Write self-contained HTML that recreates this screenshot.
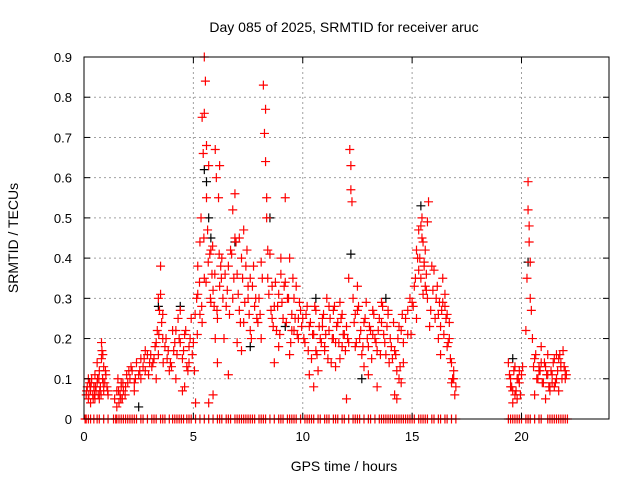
<!DOCTYPE html>
<html><head><meta charset="utf-8"><style>
body{margin:0;background:#fff;}
svg{display:block;font-family:"Liberation Sans",sans-serif;}
</style></head><body>
<svg id="chart" width="640" height="480" viewBox="0 0 640 480">
<text x="344" y="32" font-size="14" text-anchor="middle">Day 085 of 2025, SRMTID for receiver aruc</text>
<text x="344" y="471" font-size="14" text-anchor="middle">GPS time / hours</text>
<text transform="translate(18,238) rotate(-90)" font-size="14" text-anchor="middle">SRMTID / TECUs</text>
<g id="grid"></g><g id="marks"></g><g id="axes"></g>
</svg>
<script>
const xTicks=[0,5,10,15,20];
const yTicks=[0,0.1,0.2,0.3,0.4,0.5,0.6,0.7,0.8,0.9];
const yTickLabels=["0","0.1","0.2","0.3","0.4","0.5","0.6","0.7","0.8","0.9"];
const redT=[0.1,0.15,0.2,0.25,0.3,0.35,0.4,0.45,0.5,0.55,0.6,0.65,0.7,0.75,0.8,0.82,0.85,0.9,0.95,1.0,1.05,1.1,0.3,0.5,0.7,0.9,0.2,0.6,0.8,0.78,
1.4,1.5,1.55,1.6,1.65,1.7,1.75,1.8,1.9,1.95,2.0,2.05,1.5,1.7,
2.1,2.2,2.3,2.4,2.5,2.6,2.7,2.8,2.9,3.0,2.3,2.6,2.8,3.1,3.2,3.3,3.35,3.4,3.45,3.5,3.55,3.6,3.7,3.8,3.9,3.5,3.4,3.6,3.3,
4.0,4.1,4.2,4.3,4.4,4.5,4.6,4.7,4.8,4.9,4.2,4.5,4.8,4.4,4.6,
5.0,5.05,5.1,5.15,5.2,5.3,5.35,5.4,5.45,5.5,5.5,5.55,5.6,5.6,5.65,5.7,5.75,5.8,5.85,5.9,5.95,6.0,6.05,6.1,6.15,6.2,6.2,6.25,6.3,5.3,5.5,5.8,5.9,6.0,5.4,5.7,5.2,6.1,
6.4,6.5,6.6,6.7,6.8,6.9,6.9,7.0,7.1,7.2,7.3,7.4,7.5,7.6,7.7,7.8,7.9,6.6,7.0,7.3,7.6,6.8,7.2,7.5,7.1,
8.0,8.1,8.2,8.25,8.3,8.3,8.35,8.35,8.4,8.4,8.5,8.6,8.7,8.8,8.9,9.0,9.1,9.2,9.3,9.4,9.5,9.6,9.7,9.8,9.9,8.6,8.9,9.2,9.5,9.8,8.1,8.7,9.0,9.4,9.6,
10.0,10.1,10.2,10.3,10.4,10.5,10.6,10.7,10.8,10.9,11.0,11.1,11.2,11.3,11.4,11.5,11.6,11.7,11.8,11.9,10.3,10.6,10.9,11.2,11.5,11.8,10.5,11.0,11.4,11.7,
12.0,12.1,12.15,12.2,12.2,12.25,12.3,12.4,12.5,12.6,12.7,12.8,12.9,13.0,13.1,13.2,13.3,13.4,13.5,13.6,13.7,13.8,13.9,12.0,12.4,12.8,13.2,13.6,12.5,13.0,13.4,12.1,13.9,
14.0,14.1,14.2,14.3,14.4,14.5,14.6,14.7,14.8,14.9,14.2,14.4,14.6,14.8,14.3,14.5,
15.0,15.1,15.2,15.3,15.35,15.4,15.45,15.5,15.55,15.6,15.65,15.7,15.75,15.8,15.9,15.2,15.4,15.6,15.5,15.3,15.7,
16.0,16.1,16.2,16.3,16.4,16.5,16.6,16.7,16.8,16.9,17.0,16.3,16.5,16.7,16.9,16.2,16.6,16.4,16.8,
19.4,19.5,19.6,19.7,19.8,19.9,20.0,19.5,19.7,19.9,19.6,19.8,
20.2,20.25,20.3,20.3,20.35,20.35,20.4,20.4,20.45,20.5,20.6,20.7,20.8,20.9,21.0,21.1,21.2,21.3,21.4,21.5,21.6,21.7,21.8,21.9,22.0,20.6,20.9,21.2,21.5,21.8,20.8,21.1,21.4,21.7,22.0,21.3,21.6];
const redV=[0.06,0.08,0.05,0.09,0.07,0.1,0.06,0.08,0.11,0.07,0.09,0.06,0.12,0.08,0.19,0.17,0.1,0.07,0.09,0.11,0.08,0.06,0.04,0.05,0.05,0.13,0.1,0.14,0.15,0.06,
0.05,0.07,0.1,0.04,0.06,0.09,0.05,0.07,0.08,0.11,0.09,0.12,0.03,0.08,
0.1,0.12,0.09,0.14,0.11,0.15,0.13,0.12,0.16,0.14,0.07,0.1,0.17,0.13,0.15,0.19,0.22,0.3,0.27,0.38,0.24,0.2,0.18,0.15,0.12,0.31,0.16,0.26,0.1,
0.13,0.17,0.22,0.25,0.19,0.15,0.21,0.13,0.18,0.25,0.1,0.07,0.14,0.27,0.08,
0.19,0.12,0.04,0.3,0.38,0.44,0.5,0.75,0.66,0.9,0.76,0.84,0.68,0.55,0.47,0.63,0.41,0.42,0.36,0.32,0.28,0.67,0.6,0.25,0.55,0.63,0.33,0.38,0.4,0.26,0.35,0.29,0.06,0.2,0.24,0.04,0.31,0.14,
0.2,0.28,0.38,0.42,0.52,0.56,0.45,0.36,0.27,0.4,0.47,0.38,0.3,0.22,0.33,0.28,0.25,0.11,0.19,0.24,0.35,0.3,0.17,0.33,0.45,
0.3,0.39,0.83,0.71,0.77,0.64,0.55,0.5,0.42,0.35,0.41,0.33,0.28,0.22,0.31,0.36,0.25,0.55,0.3,0.4,0.26,0.22,0.33,0.2,0.27,0.25,0.18,0.34,0.22,0.25,0.2,0.14,0.4,0.16,0.3,
0.25,0.19,0.28,0.23,0.15,0.21,0.27,0.12,0.2,0.25,0.17,0.3,0.22,0.14,0.27,0.19,0.24,0.29,0.18,0.21,0.11,0.17,0.23,0.28,0.13,0.26,0.08,0.18,0.2,0.15,
0.23,0.35,0.67,0.63,0.57,0.54,0.3,0.26,0.33,0.2,0.16,0.24,0.29,0.18,0.22,0.27,0.2,0.17,0.25,0.29,0.21,0.16,0.27,0.05,0.18,0.13,0.21,0.24,0.27,0.11,0.08,0.19,0.26,
0.2,0.15,0.17,0.12,0.23,0.09,0.14,0.25,0.27,0.3,0.06,0.1,0.19,0.21,0.05,0.22,
0.29,0.33,0.42,0.47,0.4,0.35,0.5,0.44,0.39,0.33,0.36,0.3,0.54,0.23,0.38,0.25,0.48,0.42,0.31,0.37,0.49,
0.37,0.3,0.26,0.23,0.35,0.28,0.18,0.2,0.14,0.12,0.08,0.16,0.31,0.24,0.1,0.2,0.26,0.29,0.09,
0.14,0.1,0.07,0.13,0.05,0.09,0.11,0.08,0.06,0.12,0.04,0.1,
0.22,0.35,0.59,0.52,0.48,0.44,0.39,0.3,0.27,0.2,0.15,0.1,0.12,0.14,0.09,0.13,0.16,0.08,0.11,0.15,0.1,0.07,0.13,0.17,0.12,0.06,0.18,0.11,0.08,0.14,0.13,0.05,0.09,0.15,0.1,0.07,0.16];
const redT2=[0.12,0.22,0.33,0.42,0.52,0.62,0.72,0.88,0.98,1.08,0.28,0.48,0.68,0.86,1.58,1.68,1.78,1.88,2.15,2.35,2.55,2.75,2.95,3.05,3.15,3.25,3.42,3.62,3.75,3.85,3.95,4.05,4.15,4.25,4.35,4.55,4.65,4.75,4.85,4.95,
5.08,5.18,5.28,5.38,5.48,5.58,5.68,5.78,5.88,5.98,6.08,6.18,6.28,6.35,6.45,6.55,6.65,6.75,6.85,6.95,7.05,7.15,7.25,7.35,7.45,7.55,7.65,7.75,7.85,7.95,
8.05,8.15,8.45,8.55,8.65,8.75,8.85,8.95,9.05,9.15,9.25,9.35,9.45,9.55,9.65,9.75,9.85,9.95,10.05,10.15,10.25,10.35,10.45,10.55,10.65,10.75,10.85,10.95,11.05,11.15,11.25,11.35,11.45,11.55,11.65,11.75,11.85,11.95,
12.05,12.35,12.45,12.55,12.65,12.75,12.85,12.95,13.05,13.15,13.25,13.35,13.45,13.55,13.65,13.75,13.85,13.95,14.05,14.15,14.25,14.35,14.45,14.55,
14.95,15.05,15.15,15.25,15.45,15.55,15.65,15.85,15.95,16.05,16.15,16.25,16.35,16.45,16.55,16.65,16.75,16.85,16.95,
19.45,19.55,19.65,19.75,19.85,19.95,20.05,20.55,20.65,20.75,20.85,20.95,21.05,21.15,21.25,21.35,21.45,21.55,21.65,21.75,21.85,21.95,22.05];
const redV2=[0.07,0.06,0.09,0.05,0.08,0.1,0.07,0.09,0.12,0.07,0.08,0.06,0.1,0.16,0.07,0.05,0.09,0.06,0.13,0.1,0.12,0.15,0.11,0.16,0.14,0.18,0.21,0.14,0.2,0.17,0.14,0.22,0.19,0.16,0.2,0.17,0.22,0.12,0.2,0.16,
0.26,0.21,0.34,0.28,0.45,0.34,0.39,0.3,0.43,0.36,0.27,0.41,0.35,0.3,0.36,0.32,0.26,0.41,0.35,0.44,0.31,0.24,0.35,0.29,0.42,0.26,0.2,0.38,0.3,0.24,
0.26,0.35,0.31,0.27,0.23,0.34,0.28,0.21,0.29,0.33,0.24,0.3,0.19,0.35,0.25,0.21,0.29,0.23,0.2,0.26,0.17,0.24,0.21,0.28,0.16,0.23,0.19,0.26,0.21,0.15,0.25,0.2,0.28,0.23,0.19,0.25,0.21,0.17,
0.2,0.24,0.19,0.28,0.22,0.18,0.25,0.2,0.23,0.15,0.26,0.19,0.22,0.16,0.28,0.19,0.23,0.14,0.18,0.24,0.16,0.2,0.13,0.26,
0.21,0.28,0.35,0.4,0.45,0.38,0.32,0.27,0.32,0.25,0.33,0.29,0.27,0.21,0.25,0.19,0.15,0.1,0.06,
0.11,0.08,0.12,0.07,0.1,0.06,0.13,0.13,0.16,0.1,0.12,0.09,0.14,0.11,0.08,0.12,0.14,0.09,0.12,0.16,0.1,0.13,0.11];
const zeroT=[0.05,0.1,0.2,0.3,0.45,0.6,0.7,0.9,1.1,1.35,1.45,1.5,1.6,1.7,1.8,1.9,2.0,2.1,2.2,2.3,2.4,2.6,2.7,2.9,3.1,3.2,3.3,3.5,3.6,3.7,3.9,4.05,4.15,4.25,4.35,4.45,4.55,4.7,4.8,4.9,5.1,5.3,5.5,5.7,5.9,6.1,6.2,6.3,6.5,6.6,6.7,6.9,7.0,7.1,7.2,7.3,7.4,7.5,7.6,7.7,7.8,8.0,8.1,8.2,8.3,8.5,8.7,8.9,9.0,9.1,9.3,9.4,9.5,9.6,9.7,9.9,10.1,10.2,10.3,10.4,10.5,10.7,10.8,11.0,11.1,11.2,11.4,11.5,11.6,11.8,11.9,12.1,12.3,12.4,12.5,12.6,12.8,13.0,13.1,13.3,13.5,13.6,13.7,13.8,13.9,14.0,14.1,14.2,14.3,14.4,14.5,14.6,14.7,14.8,14.9,15.0,15.1,15.3,15.4,15.5,15.6,15.7,15.9,16.0,16.2,16.3,16.5,16.6,16.8,17.0,19.4,19.5,19.6,19.7,19.8,19.9,20.0,20.2,20.3,20.4,20.6,20.8,20.9,21.2,21.3,21.4,21.5,21.6,21.7,21.8,21.9,22.0,22.1];
const blackT=[5.5,5.6,5.7,6.9,8.5,12.2,10.6,13.8,15.4,19.6,20.3,12.7,9.2,4.4,3.4,2.5,5.8,7.6];
const blackV=[0.62,0.59,0.5,0.44,0.5,0.41,0.3,0.3,0.53,0.15,0.39,0.1,0.23,0.28,0.28,0.03,0.45,0.18];
const NS="http://www.w3.org/2000/svg";
const L=84,R=609,T=57,B=419;
function xs(t){return L+t*(R-L)/24;}
function ys(v){return B-v*(B-T)/0.9;}
const grid=document.getElementById('grid'),marks=document.getElementById('marks'),axes=document.getElementById('axes');
function mk(tag,attrs,parent){const e=document.createElementNS(NS,tag);for(const k in attrs)e.setAttribute(k,attrs[k]);parent.appendChild(e);return e;}
xTicks.forEach(t=>{
 if(t>0){const g=mk('line',{x1:xs(t),x2:xs(t),y1:T,y2:B,stroke:'#a0a0a0','stroke-dasharray':'2,3'},grid);
 
 }
 const tl=mk('text',{x:xs(t),y:B+22,'font-size':13,'text-anchor':'middle'},axes);tl.textContent=t;
 
 
 mk('line',{x1:xs(t),x2:xs(t),y1:B,y2:B-6,stroke:'#000'},axes);
 mk('line',{x1:xs(t),x2:xs(t),y1:T,y2:T+6,stroke:'#000'},axes);
});
yTicks.forEach((v,i)=>{
 if(v>0&&v<0.9){const g=mk('line',{x1:L,x2:R,y1:ys(v),y2:ys(v),stroke:'#a0a0a0','stroke-dasharray':'2,3'},grid);
 
 }
 const tl=mk('text',{x:L-12,y:ys(v)+5,'font-size':13,'text-anchor':'end'},axes);tl.textContent=yTickLabels[i];
 
 
 mk('line',{x1:L,x2:L+6,y1:ys(v),y2:ys(v),stroke:'#000'},axes);
 mk('line',{x1:R,x2:R-6,y1:ys(v),y2:ys(v),stroke:'#000'},axes);
});
const box=mk('rect',{x:L,y:T,width:R-L,height:B-T,fill:'none',stroke:'#000'},axes);


function cross(t,v,col,name){
 const g=mk('path',{d:`M${xs(t)-4.5},${ys(v)}h9M${xs(t)},${ys(v)-4.5}v9`,stroke:col,'stroke-width':1.2,fill:'none'},marks);
 
 
}
blackT.forEach((t,i)=>cross(t,blackV[i],'#000','black-point'));
redT.forEach((t,i)=>cross(t,redV[i],'#ff0000','red-point'));
redT2.forEach((t,i)=>cross(t,redV2[i],'#ff0000','red-point'));
zeroT.forEach(t=>cross(t,0,'#ff0000','zero-point'));
</script>
</body></html>
